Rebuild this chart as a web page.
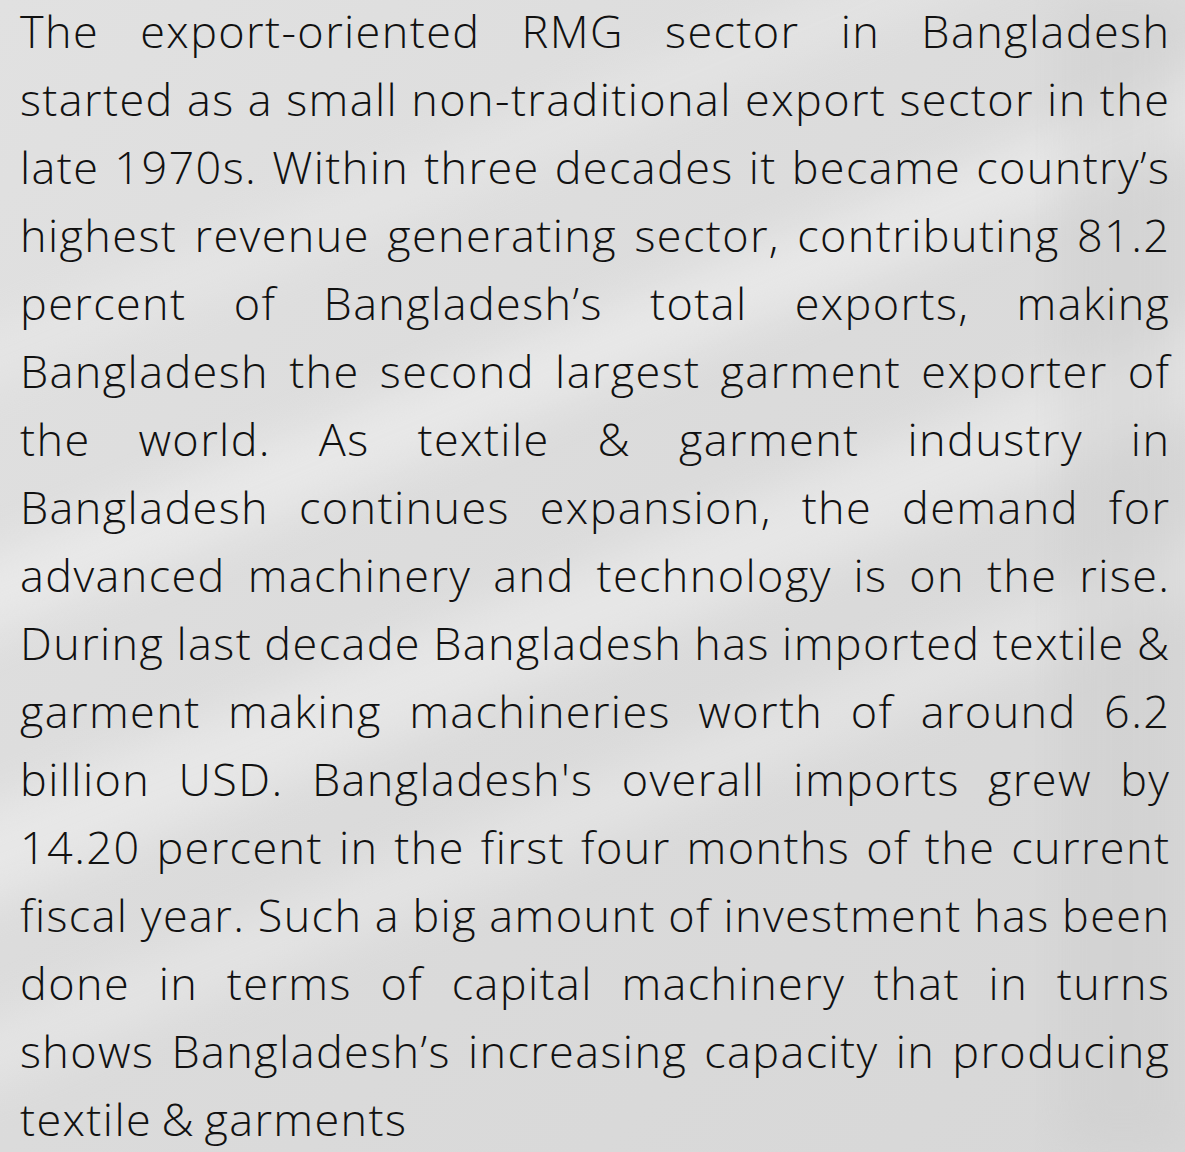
<!DOCTYPE html>
<html>
<head>
<meta charset="utf-8">
<script src="https://cdn.jsdelivr.net/npm/d3@7"></script>
<style>
  html, body { margin: 0; padding: 0; background: #dcdcdc; }
  svg { display: block; }
</style>
</head>
<body>
<div id="chart"></div>
<script>
// paragraph, one entry per rendered line (justified except the last)
const lines = [
  'The export-oriented RMG sector in Bangladesh',
  'started as a small non-traditional export sector in the',
  'late 1970s.  Within three decades it became country\u2019s',
  'highest revenue generating sector, contributing 81.2',
  'percent of Bangladesh\u2019s total exports, making',
  'Bangladesh the second largest garment exporter of',
  'the world. As textile & garment industry in',
  'Bangladesh continues expansion, the demand for',
  'advanced machinery and technology is on the rise.',
  'During last decade Bangladesh has imported textile &',
  'garment making machineries worth of around 6.2',
  'billion USD. Bangladesh\'s overall imports grew by',
  '14.20 percent in the first four months of the current',
  'fiscal year. Such a big amount of investment has been',
  'done in terms of capital machinery that in turns',
  'shows Bangladesh\u2019s increasing capacity in producing',
  'textile & garments'
]

// faint light streaks of the faded photo behind the text
const lightBands = [
  { x: -200, y: 330, w: 1700, h: 70, o: 0.5 },
  { x: -200, y: 560, w: 1700, h: 90, o: 0.45 },
  { x: -200, y: 760, w: 1700, h: 60, o: 0.35 },
  { x: -200, y: 120, w: 1700, h: 50, o: 0.3 }
]

const width = 1185
const height = 1152
const margin = { left: 20, right: 16 }
const fontSize = 45
const letterSpacing = 1.4
const firstBaseline = 48
const lineStep = 68

const svg = d3
  .select('#chart')
  .append('svg')
  .attr('width', width)
  .attr('height', height)

const defs = svg.append('defs')
const grad = defs
  .append('linearGradient')
  .attr('id', 'bg')
  .attr('x1', 0)
  .attr('y1', 0)
  .attr('x2', 1)
  .attr('y2', 1)
grad.append('stop').attr('offset', '0%').attr('stop-color', '#e1e1e1')
grad.append('stop').attr('offset', '50%').attr('stop-color', '#dbdbdb')
grad.append('stop').attr('offset', '100%').attr('stop-color', '#d7d7d7')

defs
  .append('filter')
  .attr('id', 'blur')
  .attr('x', '-20%')
  .attr('y', '-100%')
  .attr('width', '140%')
  .attr('height', '300%')
  .append('feGaussianBlur')
  .attr('stdDeviation', 22)

svg
  .append('rect')
  .attr('width', width)
  .attr('height', height)
  .attr('fill', 'url(#bg)')

svg
  .append('g')
  .attr('transform', 'rotate(-22 600 576)')
  .selectAll('rect')
  .data(lightBands)
  .enter()
  .append('rect')
  .attr('x', d => d.x)
  .attr('y', d => d.y)
  .attr('width', d => d.w)
  .attr('height', d => d.h)
  .attr('fill', '#f4f4f4')
  .attr('opacity', d => d.o)
  .attr('filter', 'url(#blur)')

// darker machinery hint on the right side
svg
  .append('rect')
  .attr('x', 1060)
  .attr('y', 0)
  .attr('width', 125)
  .attr('height', height)
  .attr('fill', '#c9c9c9')
  .attr('opacity', 0.35)
  .attr('filter', 'url(#blur)')

const textG = svg.append('g')
const availWidth = width - margin.left - margin.right

lines.forEach(function(line, i) {
  const y = firstBaseline + i * lineStep
  const words = line.split(/\s+/)
  const row = textG.append('g')

  const nodes = words.map(function(w) {
    return row
      .append('text')
      .text(w)
      .attr('y', y)
      .style('font-family', '"Open Sans", Lato, sans-serif')
      .style('font-weight', 300)
      .style('font-size', fontSize + 'px')
      .style('letter-spacing', letterSpacing + 'px')
      .style('font-variant-ligatures', 'none')
      .attr('fill', '#111')
  })
  // drop the trailing letter-spacing of each word
  const widths = nodes.map(n => n.node().getComputedTextLength() - letterSpacing)
  const total = d3.sum(widths)
  const isLast = i === lines.length - 1
  const space = fontSize * 0.24

  let gap = isLast ? space : (availWidth - total) / (words.length - 1)
  let scale = 1
  if (!isLast && gap < space) {
    // too long for the line: squeeze slightly, keep normal spacing
    scale = availWidth / (total + space * (words.length - 1))
    gap = space
  }

  let x = 0
  nodes.forEach(function(n, j) {
    n.attr('x', x)
    x += widths[j] + gap
  })
  row.attr(
    'transform',
    'translate(' + margin.left + ',0) scale(' + scale + ',1)'
  )
})
</script>
</body>
</html>
